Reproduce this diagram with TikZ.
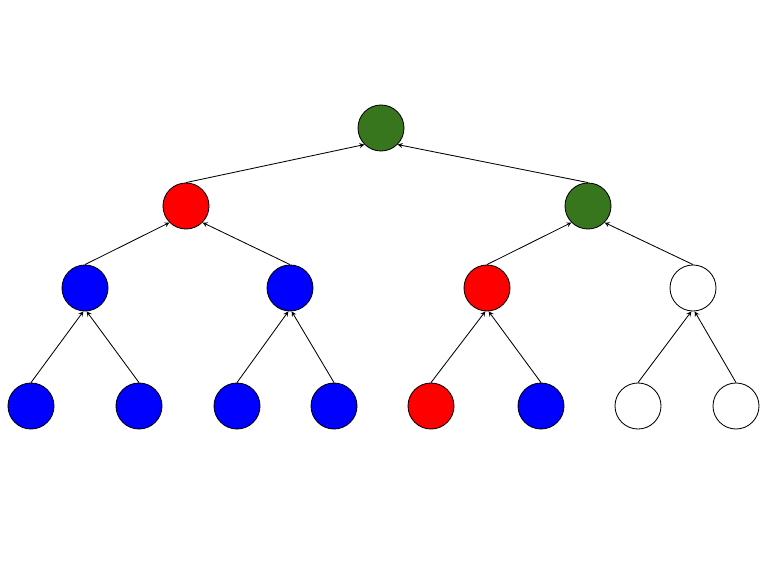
\documentclass[tikz,border=0pt]{standalone}
\usepackage{tikz}
\usepackage{xcolor}
\usetikzlibrary{arrows,positioning}
\definecolor{treegreen}{RGB}{56,118,29}
\definecolor{treered}{RGB}{255,0,0}
\definecolor{treeblue}{RGB}{0,0,255}

\begin{document}
\begin{tikzpicture}[
 x=0.025cm, y=-0.025cm,
 vertex/.style={circle, draw, line width=0.6pt, minimum size=1.15cm, inner sep=0pt},
 gnode/.style={vertex, fill=treegreen},
 rnode/.style={vertex, fill=treered},
 bnode/.style={vertex, fill=treeblue},
 wnode/.style={vertex, fill=white},
 arrow/.style={->, >=stealth, line width=0.6pt, color=black}
]
\useasboundingbox (0,0) rectangle (768,576);

% Root
\node[gnode] (root) at (381,128) {};

% Level 1
\node[rnode] (l) at (186,206) {};
\node[gnode] (r) at (588,206) {};

% Level 2
\node[bnode] (ll) at (85,288) {};
\node[bnode] (lr) at (290,288) {};
\node[rnode] (rl) at (487,288) {};
\node[wnode] (rr) at (693,288) {};

% Level 3
\node[bnode] (lll) at (31,406) {};
\node[bnode] (llr) at (139,406) {};
\node[bnode] (lrl) at (237,406) {};
\node[bnode] (lrr) at (334,406) {};
\node[rnode] (rll) at (431,406) {};
\node[bnode] (rlr) at (541,406) {};
\node[wnode] (rrl) at (638,406) {};
\node[wnode] (rrr) at (736,406) {};

% Arrows - level 1 to root
\draw[arrow] (l.north) -- (root.south west);
\draw[arrow] (r.north) -- (root.south east);

% Arrows - level 2 to level 1
\draw[arrow] (ll.north) -- (l.south west);
\draw[arrow] (lr.north) -- (l.south east);
\draw[arrow] (rl.north) -- (r.south west);
\draw[arrow] (rr.north) -- (r.south east);

% Arrows - leaves to level 2
\draw[arrow] (lll.north) -- (ll.266);
\draw[arrow] (llr.north) -- (ll.274);
\draw[arrow] (lrl.north) -- (lr.266);
\draw[arrow] (lrr.north) -- (lr.274);
\draw[arrow] (rll.north) -- (rl.266);
\draw[arrow] (rlr.north) -- (rl.274);
\draw[arrow] (rrl.north) -- (rr.266);
\draw[arrow] (rrr.north) -- (rr.274);

\end{tikzpicture}
\end{document}
